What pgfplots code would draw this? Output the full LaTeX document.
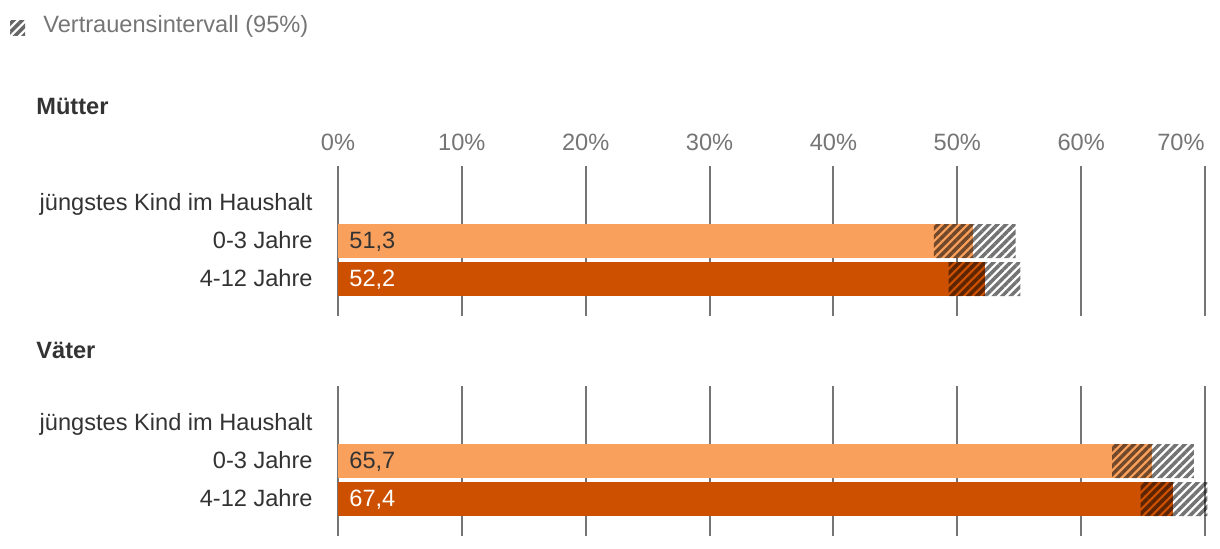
\documentclass[border=0pt]{standalone}
\usepackage{fontspec}
\setmainfont{Liberation Sans}
\usepackage{pgfplots}
\pgfplotsset{compat=1.18}
\usepackage{pgfplotstable}
\usetikzlibrary{patterns.meta}

\definecolor{hell}{HTML}{F9A05C}
\definecolor{dunkel}{HTML}{CC5000}
\definecolor{gitter}{HTML}{757575}
\definecolor{schrift}{HTML}{333333}

% y: 1 = 0-3 Jahre, 0 = 4-12 Jahre; lo/hi = Vertrauensintervall
\pgfplotstableread{
y  wert  lo    hi
1  51.3  48.1  54.7
0  52.2  49.3  55.1
}\muetter
\pgfplotstableread{
y  wert  lo    hi
1  65.7  62.5  69.1
0  67.4  64.8  70.2
}\vaeter

\newcommand\schriftgr{\fontsize{11.8}{14}\selectfont}

\tikzset{
  ci/.style={draw=none, pattern={Lines[angle=45, distance=3pt, line width=1.75pt]},
    pattern color=black},
}

\pgfplotsset{
  gruppe/.style={
    scale only axis, width=433.5pt, height=75pt,
    anchor=south west,
    xmin=0, xmax=70, ymin=-0.974, ymax=2.974,
    bar width=17pt,
    axis line style={draw=none},
    xmajorgrids, grid style={gitter, line width=1pt},
    xtick={0,10,...,60}, ytick={0,1,2},
    extra x ticks={70},
    extra x tick style={grid=major},
    yticklabels={4-12 Jahre, 0-3 Jahre, jüngstes Kind im Haushalt},
    major tick length=0pt,
    /pgf/number format/assume math mode=true,
    tick label style={font=\schriftgr},
    yticklabel style={text=schrift, inner sep=0pt, anchor=base east, xshift=-12.5pt, yshift=-3.8pt},
  },
  schraffur/.style={
    scale only axis, width=433.5pt, height=75pt,
    anchor=south west,
    xmin=0, xmax=70, ymin=-0.974, ymax=2.974,
    hide axis, clip=false,
    xbar stacked, bar width=17pt,
  },
  wertlabel/.style={draw=none, mark=none, point meta=explicit,
    nodes near coords={\pgfmathprintnumber[assume math mode=true,use comma,fixed,fixed zerofill,precision=1]{\pgfplotspointmeta}},
    nodes near coords style={font=\schriftgr, text=#1, anchor=base west, inner sep=0pt, xshift=5.5pt, yshift=-3.8pt}},
}

\begin{document}
\begin{tikzpicture}
\path[use as bounding box] (0,0) rectangle (610pt,-274pt);

% Legende
\begin{scope}[transparency group, opacity=0.6]
\fill[ci] (5pt,-10pt) rectangle (12.5pt,-17.5pt);
\end{scope}
\node[anchor=base west, inner sep=0pt, font=\schriftgr, text=gitter] at (21.5pt,-16.2pt) {Vertrauensintervall (95\%)};

% Mütter
\node[anchor=base west, inner sep=0pt, font=\schriftgr\bfseries, text=schrift] at (18pt,-57pt) {Mütter};
\begin{axis}[gruppe, at={(169pt,-158pt)},
    xticklabel pos=upper,
    xticklabel={\pgfmathprintnumber{\tick}\%},
    xticklabel style={text=gitter, inner sep=0pt, anchor=base, yshift=8pt},
    extra x tick style={grid=major, xticklabel style={anchor=base east}}]
\addplot[xbar, bar shift=0pt, fill=hell, draw=none]
  table[x=wert, y=y, skip coords between index={1}{2}] \muetter;
\addplot[xbar, bar shift=0pt, fill=dunkel, draw=none]
  table[x=wert, y=y, skip coords between index={0}{1}] \muetter;
\addplot[wertlabel=schrift] table[x expr=0, y=y, meta=wert, skip coords between index={1}{2}] \muetter;
\addplot[wertlabel=white] table[x expr=0, y=y, meta=wert, skip coords between index={0}{1}] \muetter;
\end{axis}
\begin{scope}[transparency group, opacity=0.55]
\begin{axis}[schraffur, at={(169pt,-158pt)}]
\addplot[draw=none, fill=none] table[x=lo, y=y] \muetter;
\addplot[ci] table[x expr=\thisrow{hi}-\thisrow{lo}, y=y] \muetter;
\end{axis}
\end{scope}

% Väter
\node[anchor=base west, inner sep=0pt, font=\schriftgr\bfseries, text=schrift] at (18pt,-179pt) {Väter};
\begin{axis}[gruppe, at={(169pt,-268pt)}, xticklabels={}, extra x tick labels={}]
\addplot[xbar, bar shift=0pt, fill=hell, draw=none]
  table[x=wert, y=y, skip coords between index={1}{2}] \vaeter;
\addplot[xbar, bar shift=0pt, fill=dunkel, draw=none]
  table[x=wert, y=y, skip coords between index={0}{1}] \vaeter;
\addplot[wertlabel=schrift] table[x expr=0, y=y, meta=wert, skip coords between index={1}{2}] \vaeter;
\addplot[wertlabel=white] table[x expr=0, y=y, meta=wert, skip coords between index={0}{1}] \vaeter;
\end{axis}
\begin{scope}[transparency group, opacity=0.55]
\begin{axis}[schraffur, at={(169pt,-268pt)}]
\addplot[draw=none, fill=none] table[x=lo, y=y] \vaeter;
\addplot[ci] table[x expr=\thisrow{hi}-\thisrow{lo}, y=y] \vaeter;
\end{axis}
\end{scope}
\end{tikzpicture}
\end{document}
